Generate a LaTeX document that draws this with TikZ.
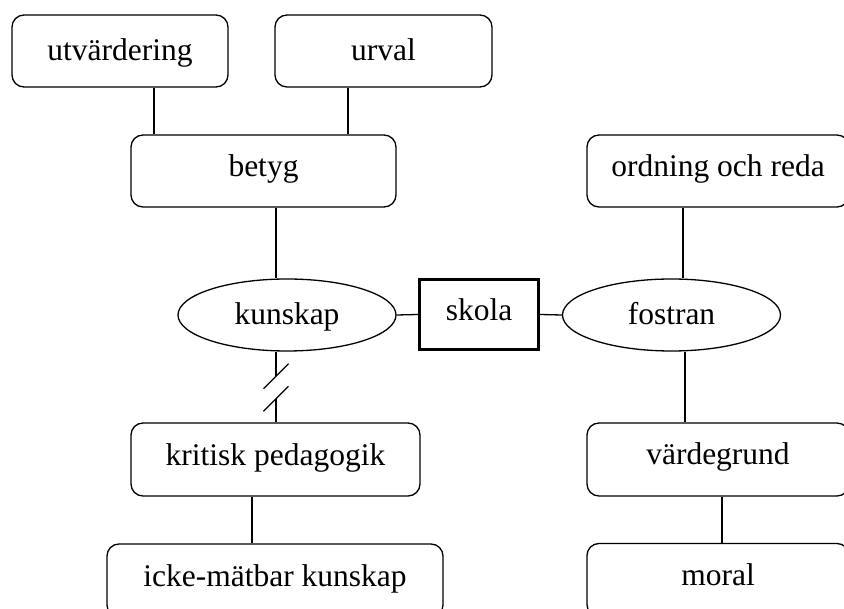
\documentclass[tikz,border=0pt]{standalone}
\usepackage{fontspec}
\setmainfont{Liberation Serif}
\usetikzlibrary{shapes.geometric}

\begin{document}
\begin{tikzpicture}[x=1pt, y=-1pt,
  every node/.style={font=\fontsize{31.5}{36}\selectfont, text height=22pt, text depth=10pt},
  box/.style={draw, line width=1.3pt, rounded corners=12pt, minimum height=72pt, inner sep=0pt},
  oval/.style={draw, ellipse, line width=1.3pt, minimum width=218pt, minimum height=72pt, inner sep=0pt, text depth=2pt},
  link/.style={line width=1.3pt}]
% Frame (right and bottom boxes run off the edge)
\clip (0,0) rectangle (844,609);

% Top boxes
\node[box, minimum width=216pt, text depth=2pt] (utv) at (120,51) {utvärdering};
\node[box, minimum width=217pt, text depth=2pt] (urval) at (383.5,51) {urval};
\node[box, minimum width=265pt] (betyg) at (263.5,171) {betyg};
\node[box, minimum width=262pt] (ordning) at (718,171) {ordning och reda};

% Middle row
\node[oval] (kunskap) at (287,315) {kunskap};
\node[draw, line width=3.3pt, minimum width=119pt, minimum height=69.5pt, inner sep=0pt] (skola) at (479,314.5) {skola};
\node[oval] (fostran) at (671.5,315) {fostran};

% Bottom boxes
\node[box, minimum width=289pt, minimum height=73pt] (kritisk) at (275.5,459.5) {kritisk pedagogik};
\node[box, minimum width=336pt, minimum height=73pt] (icke) at (275,580.5) {icke-mätbar kunskap};
\node[box, minimum width=262pt, minimum height=73pt, text depth=11pt] (vgrund) at (718,459.5) {värdegrund};
\node[box, minimum width=262pt, minimum height=73pt, text depth=11pt] (moral) at (718,580) {moral};

% Links
\draw[link] ([xshift=34pt]utv.south) -- ([xshift=34pt]utv.south |- betyg.north);
\draw[link] ([xshift=-35.5pt]urval.south) -- ([xshift=-35.5pt]urval.south |- betyg.north);
\draw[link] ([xshift=12.5pt]betyg.south) -- ([xshift=12.5pt]betyg.south |- kunskap.north);
\draw[link] ([xshift=-35pt]ordning.south) -- ([xshift=-35pt]ordning.south |- fostran.north);
\draw[link] (kunskap.east) -- (skola.west);
\draw[link] (skola.east) -- (fostran.west);
\draw[link] ([xshift=13.5pt]fostran.south) -- ([xshift=13.5pt]fostran.south |- vgrund.north);
\draw[link] ([xshift=4pt]vgrund.south) -- ([xshift=4pt]vgrund.south |- moral.north);
\draw[link] ([xshift=-23.5pt]kritisk.south) -- ([xshift=-23.5pt]kritisk.south |- icke.north);

% Broken link kunskap - kritisk pedagogik
\path ([xshift=-11pt]kunskap.south) -- ([xshift=-11pt]kunskap.south |- kritisk.north)
  coordinate[pos=0.347] (brkA) coordinate[pos=0.667] (brkB);
\draw[link] ([xshift=-11pt]kunskap.south) -- (brkA);
\draw[link] (brkB) -- (brkB |- kritisk.north);
\draw[link] ([shift={(-12.5,12.5)}]brkA) -- ([shift={(12.5,-12.5)}]brkA);
\draw[link] ([shift={(-12.5,12.5)}]brkB) -- ([shift={(12.5,-12.5)}]brkB);

\end{tikzpicture}
\end{document}
